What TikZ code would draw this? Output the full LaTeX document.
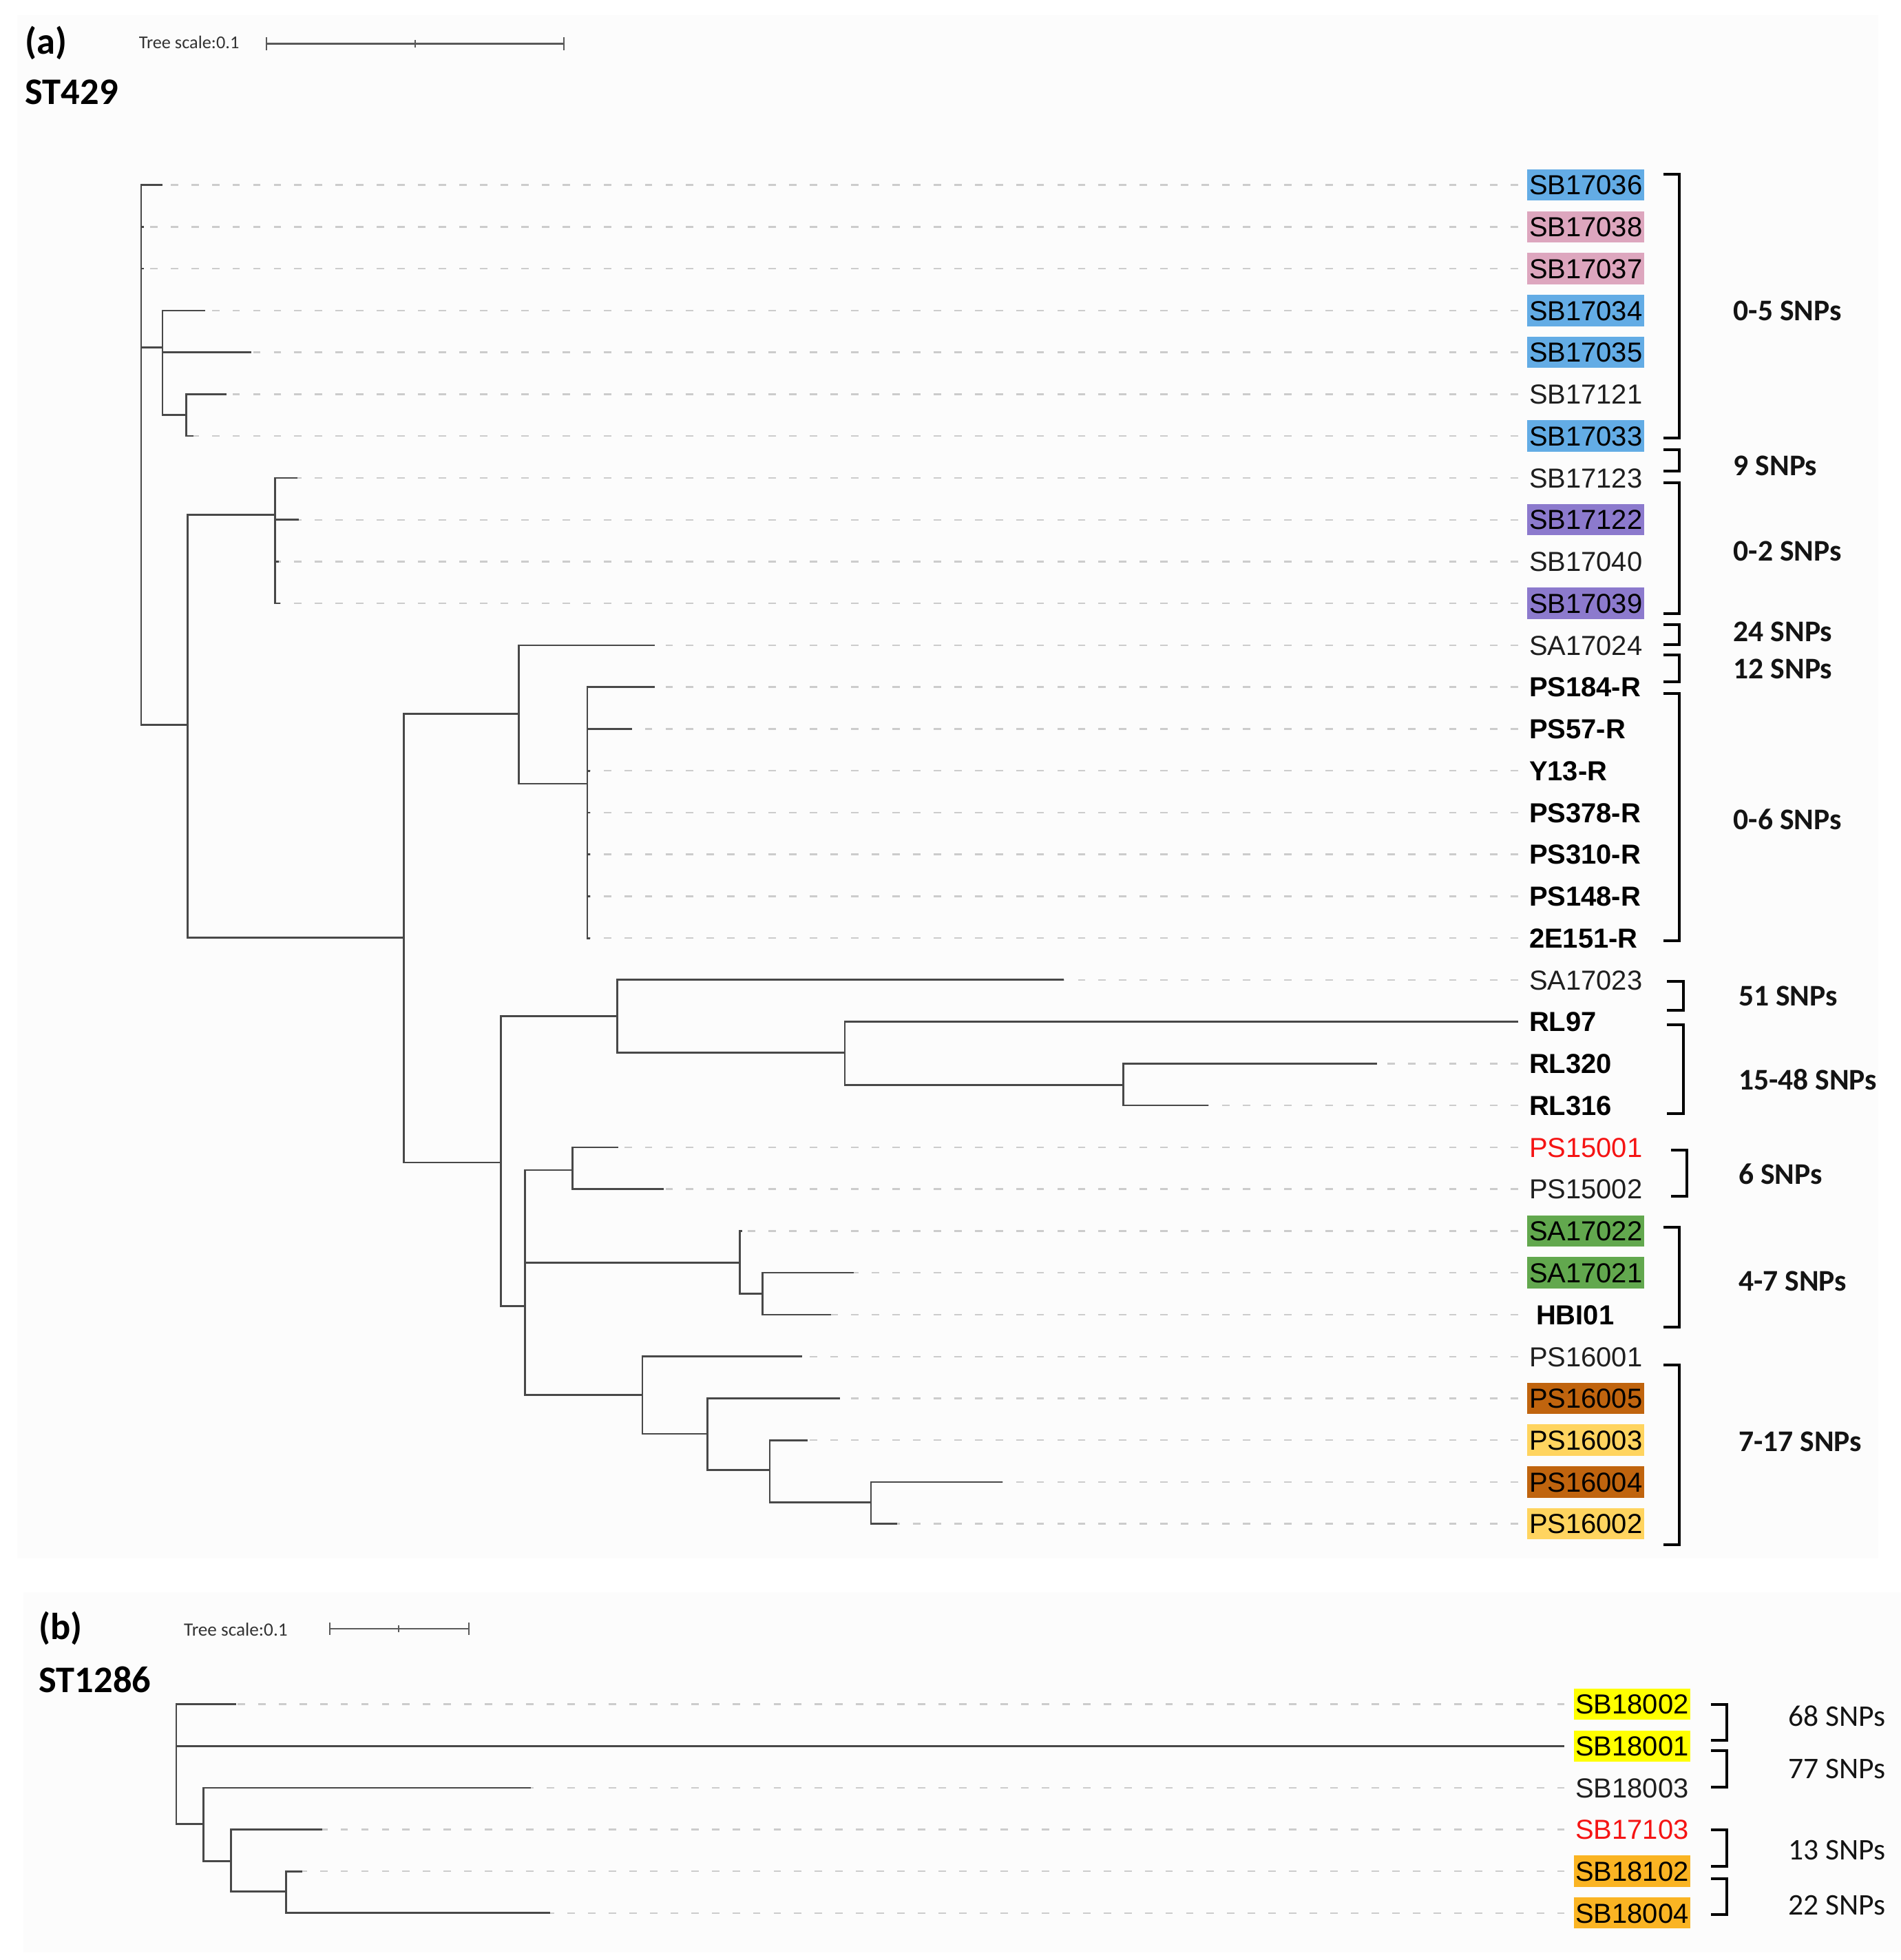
\documentclass[tikz,border=0pt]{standalone}
\usepackage{fontspec}
\setmainfont{Liberation Sans}
\newfontfamily\calfont{Carlito}
\definecolor{cblue}{RGB}{99,172,229}
\definecolor{cpink}{RGB}{221,166,190}
\definecolor{cpurple}{RGB}{140,122,205}
\definecolor{cgreen}{RGB}{98,168,78}
\definecolor{cbrown}{RGB}{192,100,14}
\definecolor{clight}{RGB}{255,212,95}
\definecolor{cyel}{RGB}{255,255,0}
\definecolor{corange}{RGB}{250,180,35}
\definecolor{cred}{RGB}{245,20,20}
\definecolor{brcol}{RGB}{72,72,72}
\definecolor{panelbg}{RGB}{252,252,252}
% leaf: name, y, tip x, label x, guide end x, style, text
\newcommand\tleaf[7]{%
  \coordinate (#1t) at (#3,#2);
  \coordinate (#1e) at (#5,#2);
  \node[#6] (#1) at (#4,#2) {#7};
  \draw[tguide] (#1e) -- (#1t);
}
% bracket: vertical x, top, bottom
\newcommand\snpbr[3]{%
  \draw[brk] ({#1-13},#2) -- (#1,#2) -- (#1,#3) -- ({#1-13},#3);
}
\begin{document}
\begin{tikzpicture}[x=1pt,y=-1pt,
  tbranch/.style={draw=brcol, line width=1.5pt, line join=miter},
  tguide/.style={draw=black!20, line width=1.3pt, dash pattern=on 6pt off 10.5pt},
  lab/.style={anchor=west, inner xsep=1.5pt, inner ysep=0pt, minimum height=25pt,
    text height=15.75pt, text depth=0pt, font=\fontsize{22}{26}\selectfont, text=black!88},
  labb/.style={lab, font=\fontsize{22}{26}\selectfont\bfseries, text=black},
  snpa/.style={anchor=west, inner sep=0pt, text height=15.5pt, text depth=0pt,
    font=\calfont\bfseries\fontsize{24}{28}\selectfont, text=black!92},
  snpr/.style={snpa, font=\calfont\fontsize{24}{28}\selectfont},
  ttl/.style={anchor=base west, inner sep=0pt, font=\calfont\bfseries\fontsize{30}{34}\selectfont},
  scl/.style={anchor=base west, inner sep=0pt, font=\calfont\fontsize{14.5}{17}\selectfont, text=black!80},
  sbar/.style={draw=black!65, line width=1.2pt},
  brk/.style={draw=black, line width=2.2pt, line join=miter}]
\useasboundingbox (0,0) rectangle (1521,1568);
\fill[panelbg] (14,12) rectangle (1503,1247);
\fill[panelbg] (19,1274) rectangle (1521,1562);

% ---------- panel (a) headers ----------
\node[ttl] (pa) at (20,43.5) {(a)};
\node[ttl] (sta) at (20,83.7) {ST429};
\node[scl] (tsa) at (111,38.7) {Tree scale:0.1};
\draw[sbar] (213,35) -- (451,35);
\draw[sbar] (213,30) -- (213,40);
\draw[sbar] (451,30) -- (451,40);
\draw[sbar] (332,32) -- (332,38);

% ---------- panel (a) leaves ----------
\tleaf{a1}{148.0}{130}{1222}{1215}{lab,fill=cblue,text=black}{SB17036}
\tleaf{a2}{181.5}{115}{1222}{1215}{lab,fill=cpink,text=black}{SB17038}
\tleaf{a3}{214.9}{115}{1222}{1215}{lab,fill=cpink,text=black}{SB17037}
\tleaf{a4}{248.4}{164}{1222}{1215}{lab,fill=cblue,text=black}{SB17034}
\tleaf{a5}{281.9}{201}{1222}{1215}{lab,fill=cblue,text=black}{SB17035}
\tleaf{a6}{315.4}{181}{1222}{1215}{lab}{SB17121}
\tleaf{a7}{348.8}{155}{1222}{1215}{lab,fill=cblue,text=black}{SB17033}
\tleaf{a8}{382.3}{238}{1222}{1215}{lab}{SB17123}
\tleaf{a9}{415.8}{239}{1222}{1215}{lab,fill=cpurple,text=black}{SB17122}
\tleaf{a10}{449.2}{223}{1222}{1215}{lab}{SB17040}
\tleaf{a11}{482.7}{224}{1222}{1215}{lab,fill=cpurple,text=black}{SB17039}
\tleaf{a12}{516.2}{524}{1222}{1215}{lab}{SA17024}
\tleaf{a13}{549.6}{524}{1222}{1215}{labb}{PS184-R}
\tleaf{a14}{583.1}{506}{1222}{1215}{labb}{PS57-R}
\tleaf{a15}{616.6}{472}{1222}{1215}{labb}{Y13-R}
\tleaf{a16}{650.1}{472}{1222}{1215}{labb}{PS378-R}
\tleaf{a17}{683.5}{472}{1222}{1215}{labb}{PS310-R}
\tleaf{a18}{717.0}{472}{1222}{1215}{labb}{PS148-R}
\tleaf{a19}{750.5}{472}{1222}{1215}{labb}{2E151-R}
\tleaf{a20}{783.9}{851}{1222}{1215}{lab}{SA17023}
\tleaf{a21}{817.4}{1215}{1222}{1215}{labb}{RL97}
\tleaf{a22}{850.9}{1102}{1222}{1215}{labb}{RL320}
\tleaf{a23}{884.3}{967}{1222}{1215}{labb}{RL316}
\tleaf{a24}{917.8}{495}{1222}{1215}{lab,text=cred}{PS15001}
\tleaf{a25}{951.3}{531}{1222}{1215}{lab}{PS15002}
\tleaf{a26}{984.8}{594}{1222}{1215}{lab,fill=cgreen,text=black}{SA17022}
\tleaf{a27}{1018.2}{683}{1222}{1215}{lab,fill=cgreen,text=black}{SA17021}
\tleaf{a28}{1051.7}{665}{1227.5}{1215}{labb}{HBI01}
\tleaf{a29}{1085.2}{642}{1222}{1215}{lab}{PS16001}
\tleaf{a30}{1118.6}{672}{1222}{1215}{lab,fill=cbrown,text=black}{PS16005}
\tleaf{a31}{1152.1}{646}{1222}{1215}{lab,fill=clight,text=black}{PS16003}
\tleaf{a32}{1185.6}{802}{1222}{1215}{lab,fill=cbrown,text=black}{PS16004}
\tleaf{a33}{1219.0}{718}{1222}{1215}{lab,fill=clight,text=black}{PS16002}

% ---------- panel (a) internal nodes ----------
\coordinate (nA) at (113,364);
\coordinate (nC) at (130,278);
\coordinate (nD) at (149,332);
\coordinate (nE) at (150,580);
\coordinate (nF) at (220,412);
\coordinate (nG) at (323,750);
\coordinate (nH) at (415,571);
\coordinate (nI) at (470,627);
\coordinate (nJ) at (401,930);
\coordinate (nK) at (494,813);
\coordinate (nL) at (676,842);
\coordinate (nM) at (899,868);
\coordinate (nN) at (420,1045);
\coordinate (nO) at (458,936);
\coordinate (nP) at (592,1010);
\coordinate (nQ) at (610,1035);
\coordinate (nR) at (514,1116);
\coordinate (nS) at (566,1147);
\coordinate (nT) at (616,1176);
\coordinate (nU) at (697,1202);

\foreach \p/\c in {nA/a1t,nA/a2t,nA/a3t,nA/nC,nA/nE,
  nC/a4t,nC/a5t,nC/nD, nD/a6t,nD/a7t,
  nE/nF,nE/nG, nF/a8t,nF/a9t,nF/a10t,nF/a11t,
  nG/nH,nG/nJ, nH/a12t,nH/nI,
  nI/a13t,nI/a14t,nI/a15t,nI/a16t,nI/a17t,nI/a18t,nI/a19t,
  nJ/nK,nJ/nN, nK/a20t,nK/nL, nL/a21t,nL/nM, nM/a22t,nM/a23t,
  nN/nO,nN/nP,nN/nR, nO/a24t,nO/a25t, nP/a26t,nP/nQ, nQ/a27t,nQ/a28t,
  nR/a29t,nR/nS, nS/a30t,nS/nT, nT/a31t,nT/nU, nU/a32t,nU/a33t}
  \draw[tbranch] (\p) |- (\c);

% ---------- panel (a) SNP groups ----------
\snpbr{1344}{139.5}{350.5}
\snpbr{1344}{359.5}{377}
\snpbr{1344}{386}{491}
\snpbr{1344}{499.5}{515.5}
\snpbr{1344}{524}{545.5}
\snpbr{1344}{555}{752.5}
\snpbr{1347}{785}{808.5}
\snpbr{1347}{820}{891}
\snpbr{1350}{920}{957}
\snpbr{1344}{982}{1061.5}
\snpbr{1344}{1092}{1236}
\node[snpa] (g1) at (1387,248.6) {0-5 SNPs};
\node[snpa] (g2) at (1387,372.5) {9 SNPs};
\node[snpa] (g3) at (1387,441) {0-2 SNPs};
\node[snpa] (g4) at (1387,505.5) {24 SNPs};
\node[snpa] (g5) at (1387,535) {12 SNPs};
\node[snpa] (g6) at (1387,656) {0-6 SNPs};
\node[snpa] (g7) at (1391,797) {51 SNPs};
\node[snpa] (g8) at (1391,864) {15-48 SNPs};
\node[snpa] (g9) at (1391,939.5) {6 SNPs};
\node[snpa] (g10) at (1391,1025) {4-7 SNPs};
\node[snpa] (g11) at (1391,1153.5) {7-17 SNPs};

% ---------- panel (b) headers ----------
\node[ttl] (pb) at (31,1311.5) {(b)};
\node[ttl] (stb) at (31,1353.7) {ST1286};
\node[scl, font=\calfont\fontsize{15}{17}\selectfont] (tsb) at (147,1308.8) {Tree scale:0.1};
\draw[sbar] (264,1303) -- (375,1303);
\draw[sbar] (264,1298) -- (264,1308);
\draw[sbar] (375,1298) -- (375,1308);
\draw[sbar] (319,1300) -- (319,1306);

% ---------- panel (b) leaves ----------
\tleaf{b1}{1363.4}{189}{1259}{1252}{lab,fill=cyel,text=black}{SB18002}
\tleaf{b2}{1396.8}{1252}{1259}{1252}{lab,fill=cyel,text=black}{SB18001}
\tleaf{b3}{1430.2}{425}{1259}{1252}{lab}{SB18003}
\tleaf{b4}{1463.6}{258}{1259}{1252}{lab,text=cred}{SB17103}
\tleaf{b5}{1497.0}{242}{1259}{1252}{lab,fill=corange,text=black}{SB18102}
\tleaf{b6}{1530.4}{440}{1259}{1252}{lab,fill=corange,text=black}{SB18004}

\coordinate (mR) at (141,1411);
\coordinate (mV) at (163,1459);
\coordinate (mW) at (185,1489);
\coordinate (mX) at (229,1513);
\foreach \p/\c in {mR/b1t,mR/b2t,mR/mV, mV/b3t,mV/mW, mW/b4t,mW/mX, mX/b5t,mX/b6t}
  \draw[tbranch] (\p) |- (\c);

\snpbr{1382}{1363.5}{1392}
\snpbr{1382}{1400.5}{1429.5}
\snpbr{1382}{1464}{1493}
\snpbr{1382}{1503}{1531.5}
\node[snpr] (h1) at (1431,1373) {68 SNPs};
\node[snpr] (h2) at (1431,1415) {77 SNPs};
\node[snpr] (h3) at (1431,1480) {13 SNPs};
\node[snpr] (h4) at (1431,1524) {22 SNPs};
\end{tikzpicture}
\end{document}
